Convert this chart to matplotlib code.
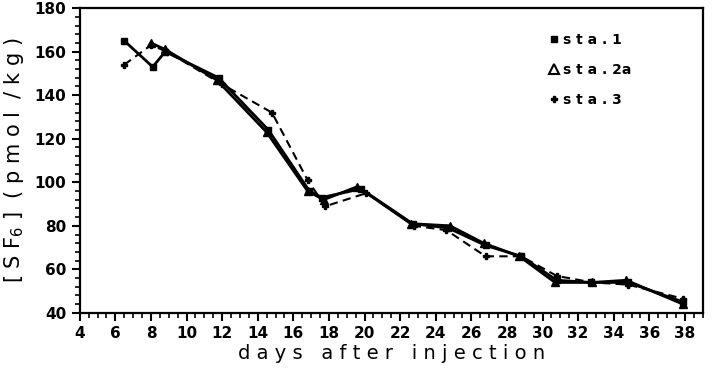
import matplotlib
matplotlib.use("Agg")
import matplotlib.pyplot as plt
from matplotlib.ticker import MultipleLocator

# sta.1 - squares
days_1 = [6.5, 8.1, 8.8, 11.8, 14.6, 16.9, 17.6, 19.8, 22.7, 24.7, 26.8, 28.8, 30.8, 32.7, 34.8, 37.9]
sf6_1 = [165, 153, 160, 148, 124, 96, 93, 97, 81, 79, 71, 66, 55, 54, 54, 45]

# sta.2a - triangles
days_2a = [8.0, 8.8, 11.7, 14.5, 16.8, 17.7, 19.6, 22.6, 24.8, 26.7, 28.7, 30.7, 32.8, 34.7, 37.9]
sf6_2a = [164, 161, 147, 123, 96, 92, 98, 81, 80, 72, 66, 54, 54, 55, 44]

# sta.3 - plus, dashed
days_3 = [6.5, 8.0, 8.9, 12.0, 14.8, 16.8, 17.8, 20.1, 22.8, 24.6, 26.8, 28.8, 30.8, 32.8, 34.8, 37.9]
sf6_3 = [154, 163, 160, 145, 132, 101, 89, 95, 80, 78, 66, 66, 57, 54, 53, 46.5]

xticks = list(range(4, 40, 2))
yticks = list(range(40, 181, 20))

plt.rcParams['font.family'] = ['DejaVu Sans']
fig = plt.figure(figsize=(7.12, 3.69), dpi=100)
ax = fig.add_axes([0.112, 0.152, 0.875, 0.826])

ax.plot(days_1, sf6_1, color='black', lw=2.0, marker='s', ms=4)
ax.plot(days_2a, sf6_2a, color='black', lw=2.0, marker='^', ms=5.5)
ax.plot(days_3, sf6_3, color='black', lw=1.5, ls=(0, (4, 2.5)), marker='P', ms=5)

# legend: markers only
h1, = ax.plot([], [], ls='none', marker='s', color='black', ms=4)
h2, = ax.plot([], [], ls='none', marker='^', mfc='white', mec='black', mew=1.5, ms=7)
h3, = ax.plot([], [], ls='none', marker='P', color='black', ms=5)
ax.legend([h1, h2, h3], ['s t a . 1', 's t a . 2a', 's t a . 3'], loc='upper right',
          bbox_to_anchor=(0.905, 0.96), frameon=False, handlelength=0.6,
          handletextpad=0.3, labelspacing=1.15,
          prop={'weight': 'bold', 'size': 10})

ax.set_xlim(4, 39)
ax.set_ylim(40, 180)
ax.set_xticks(xticks)
ax.set_yticks(yticks)
ax.xaxis.set_minor_locator(MultipleLocator(0.5))
ax.yaxis.set_minor_locator(MultipleLocator(4))
ax.tick_params(which='major', direction='out', length=6, width=1.5, labelsize=11)
ax.tick_params(which='minor', direction='out', length=3.5, width=1.2)
for lab in ax.get_xticklabels() + ax.get_yticklabels():
    lab.set_fontweight('bold')
for sp in ax.spines.values():
    sp.set_linewidth(1.6)

ax.set_xlabel('d a y s   a f t e r   i n j e c t i o n', fontsize=14, labelpad=2)
ax.set_ylabel(r'[ S F$_6$ ]  ( p m o l  / k g )', fontsize=15, labelpad=6)

fig.savefig('out.png', dpi=100)
